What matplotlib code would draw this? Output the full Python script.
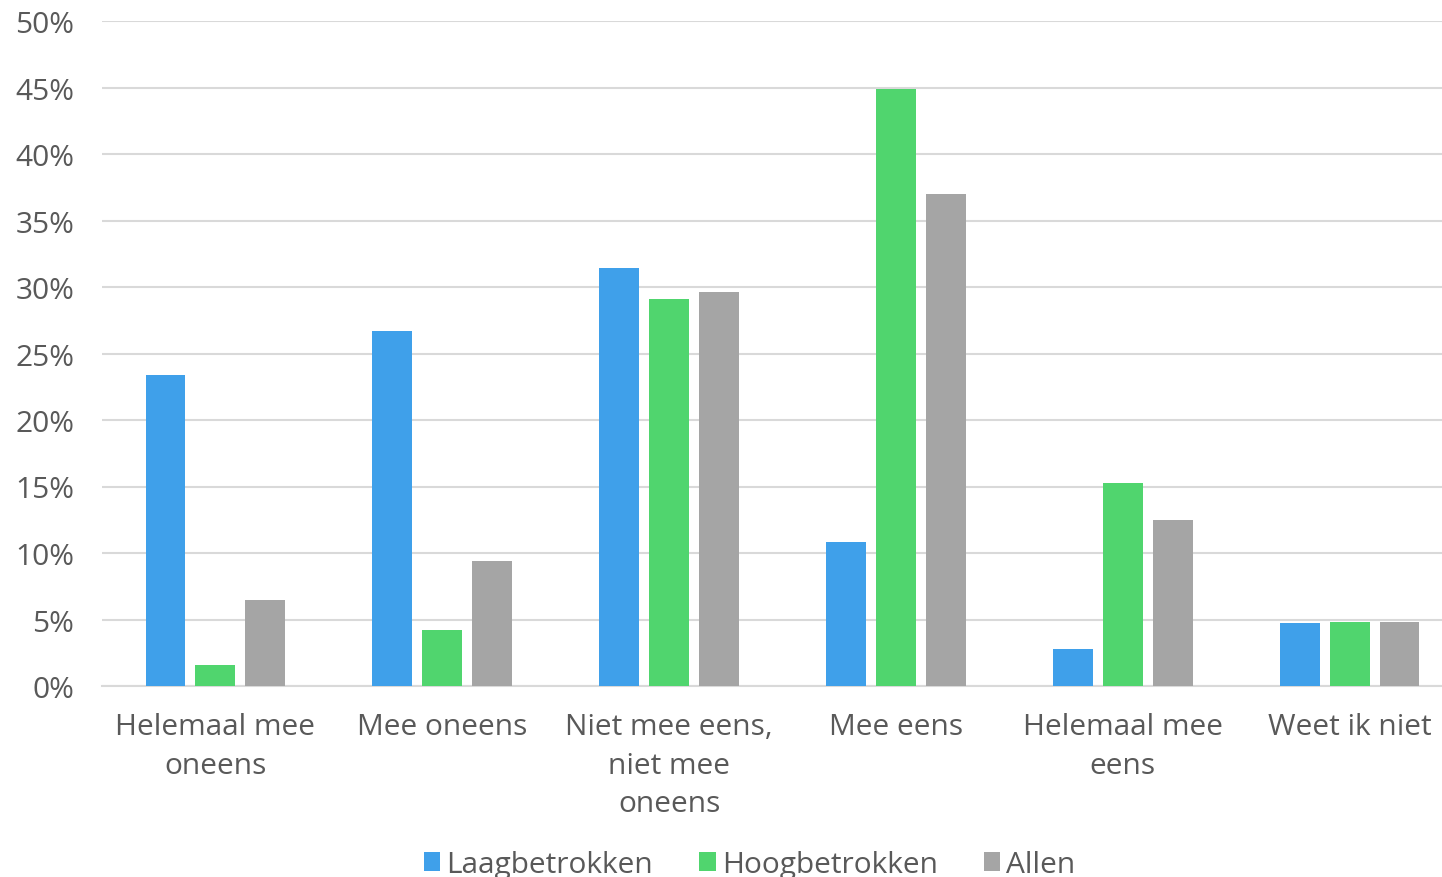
import matplotlib
matplotlib.use("Agg")
import matplotlib.pyplot as plt
import numpy as np
from matplotlib.ticker import FuncFormatter, MultipleLocator
from matplotlib.patches import Patch

plt.rcParams['font.family'] = ['Open Sans', 'DejaVu Sans']

categories = ["Helemaal mee\noneens", "Mee oneens", "Niet mee eens,\nniet mee\noneens",
              "Mee eens", "Helemaal mee\neens", "Weet ik niet"]
series_names = ["Laagbetrokken", "Hoogbetrokken", "Allen"]
laag = [23.4, 26.7, 31.4, 10.8, 2.8, 4.7]
hoog = [1.6, 4.2, 29.1, 44.9, 15.3, 4.8]
allen = [6.5, 9.4, 29.6, 37.0, 12.5, 4.8]
colors = ["#3FA0EA", "#50D56E", "#A5A5A5"]

text_color = "#595959"
grid_color = "#D9D9D9"
fs = 21.5

fig = plt.figure(figsize=(14.42, 8.78), dpi=100)
ax = fig.add_axes([102 / 1442, 191 / 878, 1361 / 1442, 665 / 878])

x = np.arange(len(categories))
width = 0.176
step = 0.22
for i, (vals, col) in enumerate(zip([laag, hoog, allen], colors)):
    ax.bar(x + (i - 1) * step, vals, width, color=col, zorder=3)

ax.set_xlim(-0.5, len(categories) - 0.5)
ax.set_ylim(0, 50)
ax.yaxis.set_major_locator(MultipleLocator(5))
ax.yaxis.set_major_formatter(FuncFormatter(lambda v, p: f"{v:.0f}%"))
ax.grid(axis='y', color=grid_color, linewidth=1.5, zorder=0)
ax.set_axisbelow(True)
for s in ['top', 'right', 'left']:
    ax.spines[s].set_visible(False)
ax.spines['bottom'].set_color(grid_color)
ax.spines['bottom'].set_linewidth(1.5)

ax.set_xticks(x)
ax.set_xticklabels(categories, linespacing=1.42)
ax.tick_params(axis='x', length=0, pad=19, labelsize=fs, labelcolor=text_color)
ax.tick_params(axis='y', length=0, pad=20, labelsize=fs, labelcolor=text_color)

handles = [Patch(facecolor=c, edgecolor='none') for c in colors]
fig.legend(handles, series_names, loc='center', bbox_to_anchor=(0.52, 1 - 866 / 878),
           ncol=3, frameon=False, fontsize=fs, labelcolor=text_color,
           handlelength=0.55, handleheight=0.6, handletextpad=0.2, columnspacing=1.55)

fig.savefig("out.png", dpi=100)
